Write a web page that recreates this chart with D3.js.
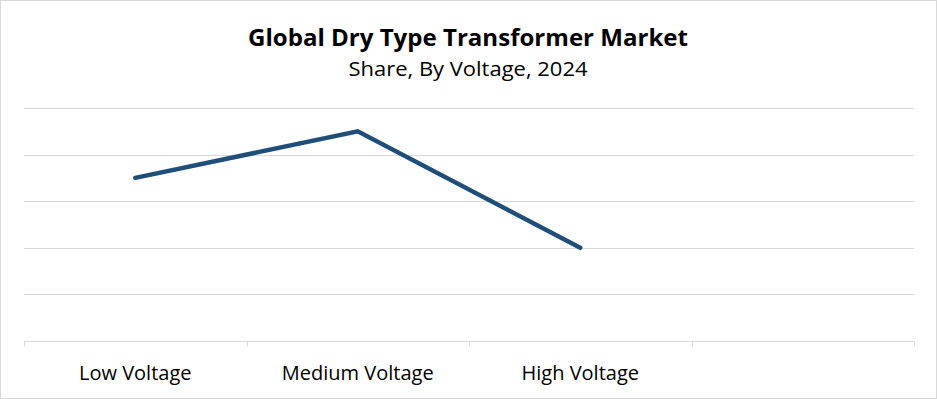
<!DOCTYPE html>
<html>
<head>
<meta charset="utf-8">
<script src="https://cdn.jsdelivr.net/npm/d3@7"></script>
<style>
	body { margin: 0; background: #fff; }
	text { font-family: 'Open Sans', 'Noto Sans', sans-serif; fill: #000; }
</style>
</head>
<body>
<div id="chart_container"></div>
<script>
// Data
const categories = ['Low Voltage', 'Medium Voltage', 'High Voltage', '']
const shareValues = [35, 45, 20]
const yTicks = [0, 10, 20, 30, 40, 50]

// Chart dimensions
const chartWidth = 937
const chartHeight = 399
const plotLeft = 24
const plotRight = 914
const plotTop = 108
const plotBottom = 341

// Scales
let scaleX = d3.scaleBand()
	.domain(categories.map((c, i) => i))
	.range([plotLeft, plotRight])
let scaleY = d3.scaleLinear()
	.domain([0, 50])
	.range([plotBottom, plotTop])

let svg = d3.select('#chart_container')
	.append('svg')
	.attr('width', chartWidth)
	.attr('height', chartHeight)

// Outer border
svg.append('rect')
	.attr('x', 0.5)
	.attr('y', 0.5)
	.attr('width', chartWidth - 1)
	.attr('height', chartHeight - 1)
	.attr('fill', '#fff')
	.attr('stroke', '#d9d9d9')

// Title
svg.append('text')
	.attr('x', 468)
	.attr('y', 46)
	.attr('text-anchor', 'middle')
	.attr('font-size', '23px')
	.attr('font-weight', 'bold')
	.attr('textLength', 440)
	.attr('lengthAdjust', 'spacingAndGlyphs')
	.text('Global Dry Type Transformer Market')
svg.append('text')
	.attr('x', 468)
	.attr('y', 76)
	.attr('text-anchor', 'middle')
	.attr('font-size', '20px')
	.attr('textLength', 239)
	.attr('lengthAdjust', 'spacingAndGlyphs')
	.text('Share, By Voltage, 2024')

// Gridlines
svg.selectAll('.grid')
	.data(yTicks.filter((t) => t > 0))
	.enter()
	.append('line')
	.attr('class', 'grid')
	.attr('x1', plotLeft)
	.attr('x2', plotRight)
	.attr('y1', (t) => Math.round(scaleY(t)) + 0.5)
	.attr('y2', (t) => Math.round(scaleY(t)) + 0.5)
	.style('stroke', '#d9d9d9')
	.style('stroke-width', 1)

// X axis
let axisG = svg.append('g')
	.attr('transform', 'translate(0,' + (plotBottom + 0.5) + ')')
axisG.append('line')
	.attr('x1', plotLeft)
	.attr('x2', plotRight)
	.style('stroke', '#d9d9d9')
// tick marks at band boundaries
axisG.selectAll('.tickmark')
	.data(d3.range(categories.length + 1))
	.enter()
	.append('line')
	.attr('class', 'tickmark')
	.attr('x1', (i) => Math.round(plotLeft + i * scaleX.step()) + 0.5)
	.attr('x2', (i) => Math.round(plotLeft + i * scaleX.step()) + 0.5)
	.attr('y1', 0)
	.attr('y2', 5)
	.style('stroke', '#d9d9d9')
axisG.selectAll('.label')
	.data(categories)
	.enter()
	.append('text')
	.attr('class', 'label')
	.attr('x', (c, i) => scaleX(i) + scaleX.bandwidth() / 2)
	.attr('y', 38)
	.attr('text-anchor', 'middle')
	.attr('font-size', '20px')
	.text((c) => c)

// Line
let line = d3.line()
	.x((v, i) => scaleX(i) + scaleX.bandwidth() / 2)
	.y((v) => scaleY(v))
svg.append('path')
	.datum(shareValues)
	.attr('d', line)
	.attr('fill', 'none')
	.style('stroke', '#1f4e79')
	.style('stroke-width', 4.5)
	.style('stroke-linecap', 'round')
	.style('stroke-linejoin', 'miter')
</script>
</body>
</html>
